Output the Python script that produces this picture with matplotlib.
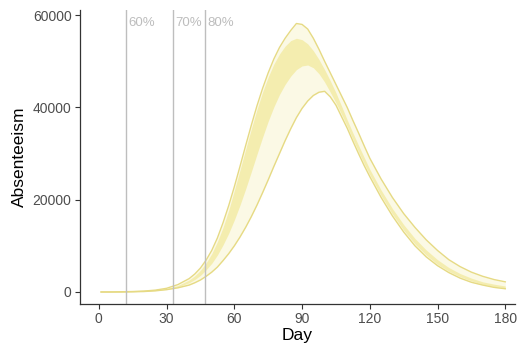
import matplotlib
matplotlib.use("Agg")
import matplotlib.pyplot as plt

plt.rcParams['font.family'] = ['Liberation Sans', 'DejaVu Sans']

# days (denser where the curves bend)
days = [1, 5, 10, 15, 20, 25, 30, 35,
        40, 42.5, 45, 47.5, 50, 52.5, 55, 57.5, 60, 62.5, 65, 67.5, 70, 72.5, 75, 77.5,
        80, 82.5, 85, 87.5, 90, 92.5, 95, 97.5, 100, 102.5, 105, 107.5, 110, 112.5,
        115, 117.5, 120,
        125, 130, 135, 140, 145, 150, 155, 160, 165, 170, 175, 180]

# outer envelope
outer_hi = [0, 0, 50, 100, 200, 400, 800, 1600,
            2900, 3900, 5200, 6900, 9000, 11700, 15000, 18700, 22800, 27200, 31700,
            36100, 40300, 44100, 47500, 50500, 53000, 55000, 56700, 58200, 58000,
            57000, 55000, 52600, 50000, 47500, 45000, 42500, 40000, 37200, 34500,
            31700, 29000,
            24500, 20500, 17000, 14000, 11300, 9000, 7000, 5500, 4300, 3400, 2700, 2200]
outer_lo = [0, 0, 0, 50, 100, 250, 500, 900,
            1500, 2000, 2600, 3400, 4300, 5400, 6800, 8300, 10000, 11900, 14000,
            16300, 18800, 21500, 24300, 27200, 30000, 32800, 35400, 37800, 39800,
            41400, 42600, 43300, 43500, 42300, 40500, 38000, 35500, 32700, 30000,
            27400, 25000,
            20500, 16500, 13000, 10000, 7600, 5700, 4200, 3000, 2100, 1500, 1000, 700]

# inner band
inner_hi = [0, 0, 50, 100, 150, 350, 700, 1400,
            2600, 3500, 4700, 6300, 8300, 10900, 14000, 17700, 22000, 26400, 30900,
            35300, 39500, 43300, 46600, 49400, 51600, 53300, 54500, 55000, 54700,
            53800, 52300, 50400, 48200, 45800, 43200, 40300, 37300, 34500, 31800,
            29200, 26600,
            22100, 18100, 14600, 11600, 9100, 7000, 5300, 4000, 3000, 2200, 1700, 1300]
inner_lo = [0, 0, 20, 70, 130, 300, 600, 1100,
            2000, 2700, 3600, 4800, 6200, 8000, 10200, 12700, 15600, 18800, 22300,
            26000, 29800, 33500, 37000, 40100, 42800, 45000, 46800, 48200, 49000,
            49200, 48600, 47300, 45500, 43300, 41000, 38500, 35900, 33100, 30400,
            27800, 25400,
            20900, 16900, 13400, 10400, 8000, 6000, 4500, 3300, 2400, 1700, 1200, 900]

# vaccination thresholds
vline_days = [12, 33, 47]
vline_labels = ["60%", "70%", "80%"]

khaki = "#F0E68C"
edge = "#E6DA84"

fig = plt.figure(figsize=(5.22, 3.49), dpi=100)
ax = fig.add_axes([0.153, 0.129, 0.834, 0.842])

ax.fill_between(days, outer_lo, outer_hi, color=khaki, alpha=0.22, lw=0)
ax.fill_between(days, inner_lo, inner_hi, color=khaki, alpha=0.6, lw=0)
ax.plot(days, outer_hi, color=edge, lw=1.0)
ax.plot(days, outer_lo, color=edge, lw=1.0)

for d, lab in zip(vline_days, vline_labels):
    ax.axvline(d, color="#BEBEBE", lw=1.0)
    ax.text(d + 1.0, 58400, lab, color="#BDBDBD", fontsize=9.5,
            ha="left", va="center")

ax.set_xlim(-8.4, 184.4)
ax.set_ylim(-2600, 61100)
ax.set_xticks([0, 30, 60, 90, 120, 150, 180])
ax.set_yticks([0, 20000, 40000, 60000])

for s in ["top", "right"]:
    ax.spines[s].set_visible(False)
for s in ["left", "bottom"]:
    ax.spines[s].set_color("#333333")
    ax.spines[s].set_linewidth(0.9)

ax.tick_params(axis="both", colors="#333333", length=3.5, width=0.8,
               labelsize=10, labelcolor="#4D4D4D", pad=2.5)
ax.set_xlabel("Day", fontsize=12.5, color="black", labelpad=1)
ax.set_ylabel("Absenteeism", fontsize=12.5, color="black", labelpad=4)

fig.savefig("out.png", dpi=100)
